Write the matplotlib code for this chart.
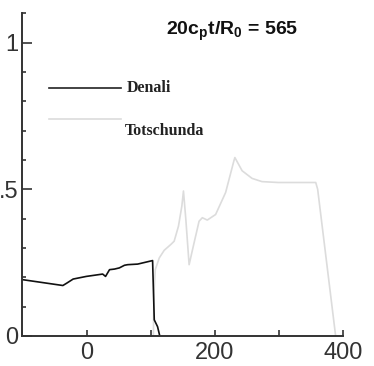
import matplotlib
matplotlib.use('Agg')
import matplotlib.pyplot as plt
from matplotlib.ticker import MultipleLocator

# Denali (black)
denali_x = [-100, -37, -31, -21, -0.5, 25, 29.5, 35.7, 43.4, 51, 59, 64, 79.6, 102.8,
            105.4, 110.5, 114]
denali_y = [0.192, 0.172, 0.180, 0.194, 0.203, 0.211, 0.203, 0.226, 0.228, 0.232,
            0.241, 0.243, 0.245, 0.257, 0.055, 0.032, 0.0]

# Totschunda (light gray)
tots_x = [104, 105, 107, 113.2, 120.9, 131.3, 136.4, 143.1, 148.4, 150.9, 154.6,
          159.7, 167.4, 175.2, 180.3, 188, 201, 216.6, 229.5, 231, 242.3, 257.8,
          273.3, 299, 357, 360, 388]
tots_y = [0.0, 0.15, 0.226, 0.266, 0.292, 0.312, 0.323, 0.374, 0.443, 0.494, 0.397,
          0.243, 0.317, 0.391, 0.403, 0.395, 0.414, 0.489, 0.597, 0.608, 0.563, 0.537,
          0.526, 0.523, 0.523, 0.5, 0.0]

ytick_vals = [0, 0.5, 1]
ytick_labels = ['0', '.5', '1']
xtick_vals = [0, 200, 400]

fig = plt.figure(figsize=(3.74, 3.66), dpi=100)
ax = fig.add_axes([0.060, 0.082, 0.858, 0.882])

gray = '#dcdcdc'
ax.plot(tots_x, tots_y, color=gray, lw=1.2)
ax.plot(denali_x, denali_y, color='#111111', lw=1.2)

ax.set_xlim(-100, 400)
ax.set_ylim(0, 1.1)

for s in ['top', 'right']:
    ax.spines[s].set_visible(False)
for s in ['left', 'bottom']:
    ax.spines[s].set_color('#333333')
    ax.spines[s].set_linewidth(1.4)

ax.set_xticks(xtick_vals)
ax.xaxis.set_minor_locator(MultipleLocator(100))
ax.set_yticks(ytick_vals)
ax.set_yticklabels(ytick_labels)
ax.yaxis.set_minor_locator(MultipleLocator(0.1))

ax.tick_params(axis='both', which='both', direction='in', color='#333333',
               labelcolor='#333333', width=1.2)
ax.tick_params(axis='x', which='both', length=4, pad=4)
ax.tick_params(axis='y', which='major', length=7, pad=3)
ax.tick_params(axis='y', which='minor', length=3)
for lab in ax.get_xticklabels() + ax.get_yticklabels():
    lab.set_fontfamily('Liberation Sans')
    lab.set_fontsize(17)

# legend drawn by hand like the original
ax.plot([-59, 54], [0.846, 0.846], color='#222222', lw=1.2)
ax.text(63, 0.846, 'Denali', family='Liberation Serif', fontweight='bold',
        fontsize=11.5, va='center', ha='left', color='#222222')
ax.plot([-59, 54], [0.740, 0.740], color=gray, lw=1.2)
ax.text(59, 0.699, 'Totschunda', family='Liberation Serif', fontweight='bold',
        fontsize=11.5, va='center', ha='left', color='#222222')

# panel label: x in axes fraction, y in data units
ax.text(0.653, 1.037, r'20c$_\mathregular{p}$t/R$_\mathregular{0}$ = 565',
        transform=ax.get_yaxis_transform(),
        family='Liberation Sans', fontweight='bold',
        fontsize=14, ha='center', va='center', color='#111111')

fig.savefig('out.png', dpi=100)
